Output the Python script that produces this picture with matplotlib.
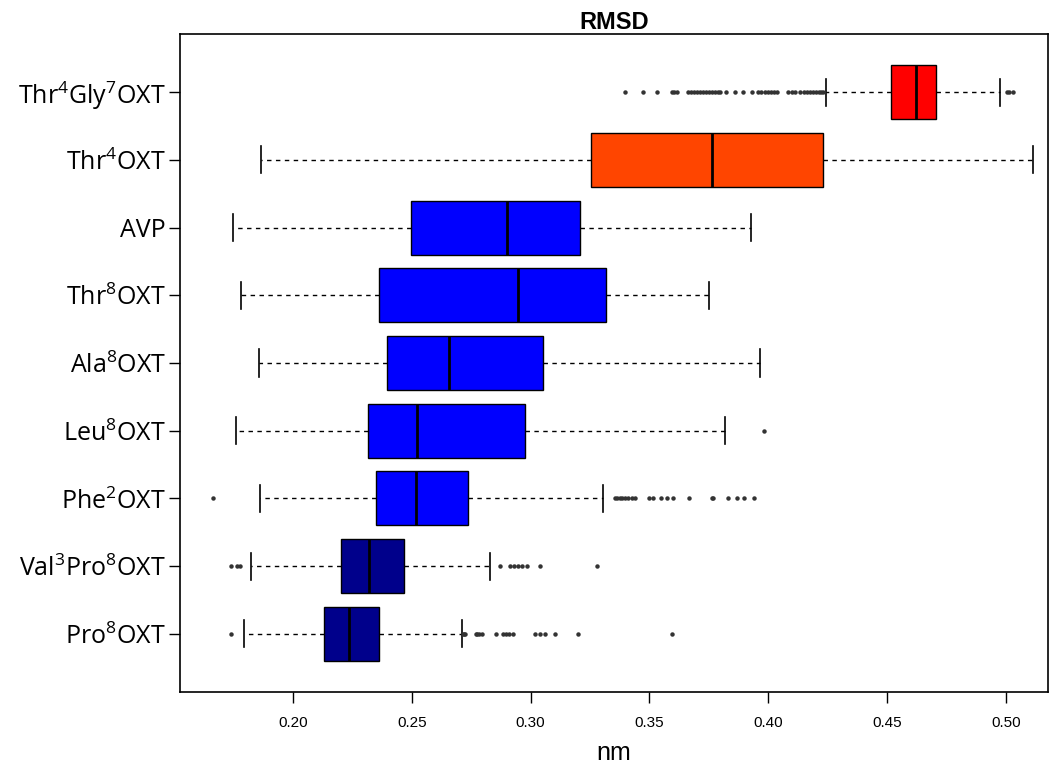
"""
Boxplot horizontal des RMSD par peptide.
"""
import matplotlib
matplotlib.use("Agg")
import matplotlib.pyplot as plt

plt.rcParams["mathtext.fontset"] = "custom"
plt.rcParams["mathtext.rm"] = "Open Sans"
plt.rcParams["mathtext.it"] = "Open Sans"

# bas -> haut
labels = [
    r"Pro$^8$OXT",
    r"Val$^3$Pro$^8$OXT",
    r"Phe$^2$OXT",
    r"Leu$^8$OXT",
    r"Ala$^8$OXT",
    r"Thr$^8$OXT",
    "AVP",
    r"Thr$^4$OXT",
    r"Thr$^4$Gly$^7$OXT",
]
whisker_lo = [0.1793, 0.1822, 0.1861, 0.1760, 0.1856, 0.1780, 0.1746, 0.1865, 0.4243]
q1 = [0.2130, 0.2201, 0.2348, 0.2316, 0.2397, 0.2361, 0.2499, 0.3254, 0.4516]
median = [0.2237, 0.2320, 0.2516, 0.2522, 0.2658, 0.2948, 0.2900, 0.3763, 0.4620]
q3 = [0.2362, 0.2468, 0.2735, 0.2975, 0.3051, 0.3316, 0.3208, 0.4230, 0.4705]
whisker_hi = [0.2710, 0.2829, 0.3303, 0.3820, 0.3965, 0.3752, 0.3927, 0.5114, 0.4977]

outliers = [
    [0.1739, 0.2714, 0.2718, 0.2724, 0.2769, 0.2775, 0.2782, 0.2794, 0.2854,
     0.2884, 0.2897, 0.2910, 0.2926, 0.3018, 0.3040, 0.3060, 0.3102, 0.3198, 0.3593],
    [0.1739, 0.1764, 0.1777, 0.2871, 0.2913, 0.2930, 0.2947, 0.2965, 0.2983,
     0.3039, 0.3278],
    [0.1662, 0.3355, 0.3365, 0.3375, 0.3385, 0.3397, 0.3410, 0.3425, 0.3440,
     0.3500, 0.3515, 0.3547, 0.3572, 0.3598, 0.3667, 0.3762, 0.3769, 0.3829,
     0.3867, 0.3898, 0.3941],
    [0.3983],
    [],
    [],
    [],
    [],
    [0.3397, 0.3474, 0.3534, 0.3593, 0.3604, 0.3614, 0.3663, 0.3675, 0.3688,
     0.3700, 0.3712, 0.3725, 0.3738, 0.3750, 0.3762, 0.3775, 0.3788, 0.3797,
     0.3822, 0.3860, 0.3895, 0.3930, 0.3958, 0.3970, 0.3985, 0.4000, 0.4012,
     0.4025, 0.4035, 0.4083, 0.4100, 0.4112, 0.4133, 0.4150, 0.4165, 0.4175,
     0.4188, 0.4200, 0.4212, 0.4222, 0.4230, 0.5005, 0.5015, 0.5028],
]
colors = ["#00008B", "#00008B", "#0000FF", "#0000FF", "#0000FF",
          "#0000FF", "#0000FF", "#FF4500", "#FF0000"]

stats = []
for i, lab in enumerate(labels):
    stats.append({
        "label": lab,
        "whislo": whisker_lo[i],
        "q1": q1[i],
        "med": median[i],
        "q3": q3[i],
        "whishi": whisker_hi[i],
        "fliers": outliers[i],
    })

fig = plt.figure(figsize=(10.52, 7.65), dpi=100)
ax = fig.add_axes([0.1711, 0.0954, 0.8251, 0.8602])

bp = ax.bxp(
    stats,
    vert=False,
    widths=0.8,
    patch_artist=True,
    boxprops=dict(edgecolor="black", linewidth=1.0),
    medianprops=dict(color="black", linewidth=2.0),
    whiskerprops=dict(color="black", linewidth=1.0, linestyle=(0, (3.2, 3.2))),
    capprops=dict(color="black", linewidth=1.2),
    flierprops=dict(marker="o", markersize=2.2, markerfacecolor="#333333",
                    markeredgecolor="#333333", linestyle="none"),
)
for patch, c in zip(bp["boxes"], colors):
    patch.set_facecolor(c)

ax.set_xlim(0.1525, 0.5177)
ax.set_ylim(0.14, 9.86)
ax.set_xticks([0.20, 0.25, 0.30, 0.35, 0.40, 0.45, 0.50])
ax.set_xticklabels(["0.20", "0.25", "0.30", "0.35", "0.40", "0.45", "0.50"],
                   fontfamily="Liberation Sans", fontsize=11)
ax.set_yticklabels(labels, fontfamily="Open Sans", fontsize=18)
ax.tick_params(axis="x", length=8, width=1, pad=9)
ax.tick_params(axis="y", length=8, width=1, pad=2)
for s in ax.spines.values():
    s.set_linewidth(1.2)

ax.set_xlabel("nm", fontfamily="Liberation Sans", fontsize=18, labelpad=8)
ax.set_title("RMSD", fontfamily="Liberation Sans", fontweight="bold",
             fontsize=17, pad=0)

fig.savefig("out.png", dpi=100)
